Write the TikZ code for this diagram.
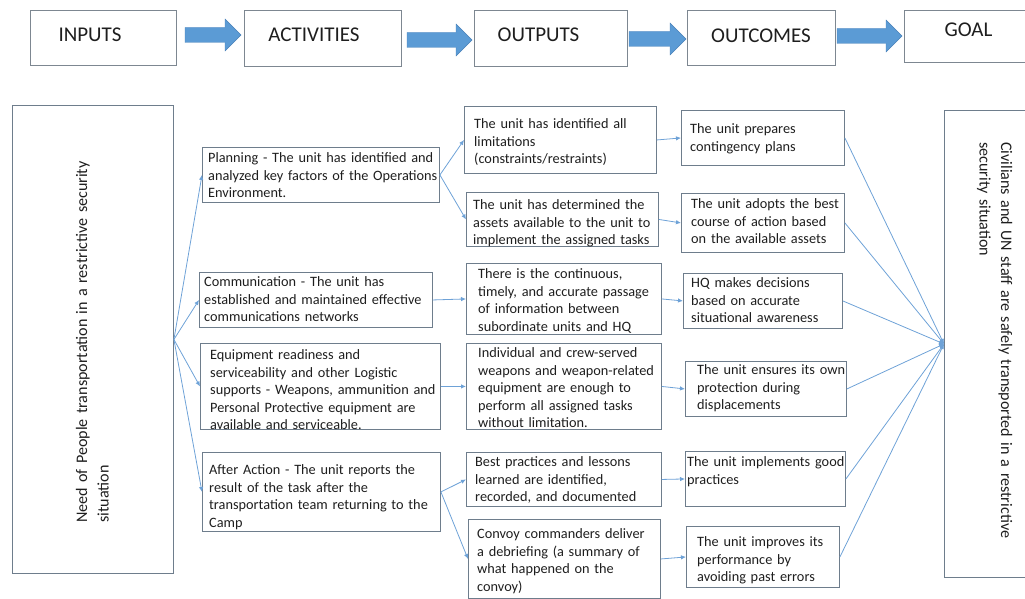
\documentclass[tikz,border=0pt]{standalone}
\usepackage{fontspec}
\setmainfont{Carlito}
\usetikzlibrary{arrows.meta}

\definecolor{ink}{RGB}{30,30,30}
\definecolor{boxline}{RGB}{110,125,140}
\definecolor{headline}{RGB}{125,135,145}
\definecolor{conn}{RGB}{110,162,215}
\definecolor{arrowblue}{RGB}{91,155,213}
\definecolor{arrowedge}{RGB}{75,130,185}

\tikzset{
  bx/.style={draw=boxline, line width=0.9pt, rectangle, inner sep=0pt, anchor=north west},
  hbx/.style={draw=headline, line width=0.9pt, rectangle, inner sep=0pt, anchor=north west},
  txt/.style={font=\fontsize{14.3}{17.5}\selectfont, text=ink, align=left,
              text width=300pt, inner sep=0pt, anchor=base west},
  bigtxt/.style={font=\fontsize{16.1}{21.5}\selectfont, text=ink, align=left,
              text width=440pt, inner sep=0pt, anchor=base west},
  hd/.style={font=\fontsize{21}{25}\selectfont, text=ink, inner sep=0pt},
  con/.style={draw=conn, line width=0.8pt, -{Latex[length=5pt,width=4.5pt]}},
  blk/.style={fill=arrowblue, draw=arrowedge, line width=0.4pt}
}

% box with its text: name, x0, y0, x1, y1, text x, first baseline y, text
\newcommand\textbox[8]{%
  \node[bx, minimum width=#4-#2, minimum height=#5-#3] (#1) at (#2,#3) {};
  \node[txt] (#1-t) at (#6,#7) {#8};
}
% header block arrow: start x, tip x, centre y
\newcommand\blockarrow[3]{%
  \path[blk] (#1,#3-7.5) -- (#2-16,#3-7.5) -- (#2-16,#3-16) -- (#2,#3)
    -- (#2-16,#3+16) -- (#2-16,#3+7.5) -- (#1,#3+7.5) -- cycle;
}

\begin{document}
\begin{tikzpicture}[x=1pt, y=-1pt]
\useasboundingbox (0,0) rectangle (1025,599);
\clip (0,0) rectangle (1025,599);

% ---- header row ----
\node[hbx, minimum width=146, minimum height=55] (h-in)  at (30,10) {};
\node[hbx, minimum width=157, minimum height=56] (h-act) at (244,10) {};
\node[hbx, minimum width=153, minimum height=56] (h-out) at (474,10) {};
\node[hbx, minimum width=148, minimum height=55] (h-oc)  at (687,10) {};
\node[hbx, minimum width=131, minimum height=52] (h-gl)  at (904,10) {};

\node[hd] (t-in)  at (90,34.5)  {INPUTS};
\node[hd] (t-act) at (314,34.5) {ACTIVITIES};
\node[hd] (t-out) at (538.5,35) {OUTPUTS};
\node[hd] (t-oc)  at (761,35.5) {OUTCOMES};
\node[hd] (t-gl)  at (968.5,30) {GOAL};

\blockarrow{185}{241}{35}
\blockarrow{407}{472}{40}
\blockarrow{629}{686}{39}
\blockarrow{837}{902}{36}

% ---- input ----
\node[bx, minimum width=161, minimum height=468] (inp) at (12,105) {};
\node[bigtxt, rotate=90] (inp-t) at (87,523)
  {Need of People transportation in a restrictive security\\situation};

% ---- activities ----
\textbox{a1}{202}{147}{439}{202}{208}{162.5}
  {Planning - The unit has identified and\\analyzed key factors of the Operations\\Environment.}
\textbox{a2}{199}{272}{432}{327}{204}{286.5}
  {Communication - The unit has\\established and maintained effective\\communications networks}
\textbox{a3}{200}{343}{440}{429}{210}{359.5}
  {Equipment readiness and\\serviceability and other Logistic\\supports - Weapons, ammunition and\\Personal Protective equipment are\\available and serviceable.}
\textbox{a4}{202}{452}{440}{531}{209}{474.5}
  {After Action - The unit reports the\\result of the task after the\\transportation team returning to the\\Camp}

% ---- outputs ----
\textbox{o1}{464}{106}{656}{173}{474}{128.5}
  {The unit has identified all\\limitations\\(constraints/restraints)}
\textbox{o2}{466}{192}{658}{246}{473}{209.5}
  {The unit has determined the\\assets available to the unit to\\implement the assigned tasks}
\textbox{o3}{466}{263}{661}{334}{478}{278.5}
  {There is the continuous,\\timely, and accurate passage\\of information between\\subordinate units and HQ}
\textbox{o4}{466}{343}{661}{429}{478}{357.5}
  {Individual and crew-served\\weapons and weapon-related\\equipment are enough to\\perform all assigned tasks\\without limitation.}
\textbox{o5}{466}{452}{661}{506}{475}{466.5}
  {Best practices and lessons\\learned are identified,\\recorded, and documented}
\textbox{o6}{468}{519}{660}{598}{477}{538.5}
  {Convoy commanders deliver\\a debriefing (a summary of\\what happened on the\\convoy)}

% ---- outcomes ----
\textbox{c1}{681}{110}{844}{165}{690}{133.5}
  {The unit prepares\\contingency plans}
\textbox{c2}{681}{193}{844}{252}{691}{208.5}
  {The unit adopts the best\\course of action based\\on the available assets}
\textbox{c3}{683}{273}{842}{328}{691}{287.5}
  {HQ makes decisions\\based on accurate\\situational awareness}
\textbox{c4}{685}{361}{846}{416}{697}{374.5}
  {The unit ensures its own\\protection during\\displacements}
\textbox{c5}{685}{451}{845}{506}{687}{466.5}
  {The unit implements good\\practices}
\textbox{c6}{686}{526}{839}{587}{697}{546.5}
  {The unit improves its\\performance by\\avoiding past errors}

% ---- goal ----
\node[bx, minimum width=100, minimum height=467] (goal) at (944,110) {};
\node[bigtxt, rotate=-90] (goal-t) at (1001,142)
  {Civilians and UN staff are safely transported in a restrictive\\security situation};

% ---- connectors ----
\foreach \t in {a1,a2,a3,a4} \draw[con] (inp.east) -- (\t.west);
\draw[con] (a1.east) -- (o1.west);
\draw[con] (a1.east) -- (o2.west);
\draw[con] (a2.east) -- (o3.west);
\draw[con] (a3.east) -- (o4.west);
\draw[con] (a4.east) -- (o5.west);
\draw[con] (a4.east) -- (o6.west);
\foreach \s/\t in {o1/c1,o2/c2,o3/c3,o4/c4,o5/c5,o6/c6} \draw[con] (\s.east) -- (\t.west);
\foreach \s in {c1,c2,c3,c4,c5,c6} \draw[con] (\s.east) -- (goal.west);
\end{tikzpicture}
\end{document}
